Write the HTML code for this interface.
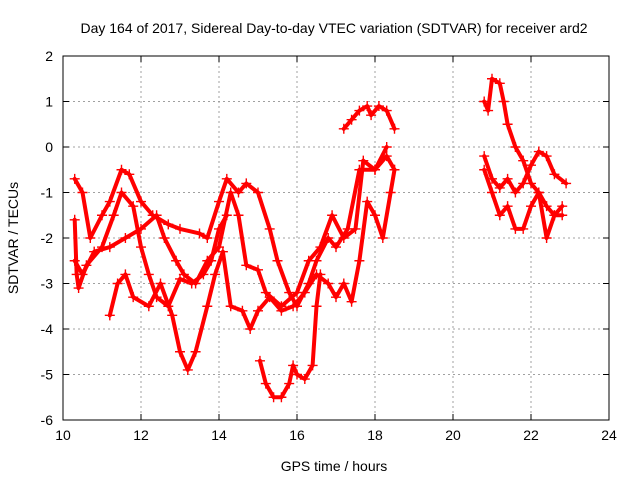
<!DOCTYPE html>
<html><head><meta charset="utf-8"><style>
body{margin:0;background:#fff}
svg{font-family:"Liberation Sans",sans-serif;font-size:14px}
</style></head><body>
<svg width="640" height="480">
<g id="grid"></g>
<g id="series"></g>
<rect x="63" y="56" width="546" height="364" fill="none" stroke="#000" stroke-width="1"/>
<g id="ticks"></g>
<text x="334" y="33" text-anchor="middle">Day 164 of 2017, Sidereal Day-to-day VTEC variation (SDTVAR) for receiver ard2</text>
<text x="334" y="471" text-anchor="middle">GPS time / hours</text>
<text x="18" y="238" text-anchor="middle" transform="rotate(-90 18 238)">SDTVAR / TECUs</text>
</svg>
<script>
const xTicks=[10,12,14,16,18,20,22,24];
const yTicks=[2,1,0,-1,-2,-3,-4,-5,-6];
const sA_t=[10.3,10.5,10.7,11,11.2,11.5,11.7,12,12.3,12.7,13,13.5,13.7,14,14.2,14.5,14.7,15,15.3,15.5,15.8,16,16.3,16.5,16.8,17,17.3,17.6,18,18.3,18.5];
const sA_v=[-0.7,-1,-2,-1.5,-1.2,-0.5,-0.6,-1.2,-1.5,-1.7,-1.8,-1.9,-2,-1.2,-0.7,-1,-0.8,-1,-1.8,-2.5,-3.2,-3.5,-3,-2.5,-2,-2.2,-1.8,-0.5,-0.5,-0.2,-0.5];
const sB_t=[11.2,11.4,11.6,11.8,12.2,12.5,12.8,13,13.2,13.4,13.7,13.9,14.1,14.3,14.6,14.8,15,15.3,15.6,15.9,16.2,16.5,16.8,17,17.2,17.4,17.6,17.8,18,18.2,18.4,18.5];
const sB_v=[-3.7,-3,-2.8,-3.3,-3.5,-3,-3.7,-4.5,-4.9,-4.5,-3.5,-2.8,-2.3,-3.5,-3.6,-4,-3.6,-3.3,-3.6,-3.5,-3.2,-2.8,-3,-3.3,-3,-3.4,-2.5,-1.2,-1.5,-2,-1,-0.5];
const sC_t=[10.3,10.5,10.8,11.2,11.6,12,12.4,12.6,12.9,13.1,13.4,13.7,14,14.3,14.5,14.7,15,15.2,15.6,16,16.3,16.6,16.9,17.2,17.5,17.7,18,18.3];
const sC_v=[-2.5,-2.8,-2.3,-2.2,-2,-1.8,-1.5,-2,-2.5,-2.8,-3,-2.5,-2.2,-1,-1.5,-2.6,-2.7,-3.2,-3.5,-3.2,-2.5,-2.2,-1.5,-2,-1.8,-0.3,-0.5,0];
const sD_t=[10.3,10.35,10.4,10.6,11,11.3,11.5,11.8,12,12.2,12.4,12.7,13,13.3,13.6,13.8,14,14.2];
const sD_v=[-1.6,-2.8,-3.1,-2.6,-2.2,-1.5,-1,-1.3,-2.2,-2.8,-3.3,-3.5,-2.9,-3,-2.8,-2.5,-1.8,-1.5];
const sE_t=[15.05,15.2,15.4,15.6,15.8,15.9,16,16.2,16.4,16.5,16.6];
const sE_v=[-4.7,-5.2,-5.5,-5.5,-5.2,-4.8,-5,-5.1,-4.8,-3.5,-2.8];
const sF_t=[17.2,17.4,17.6,17.8,17.9,18.1,18.3,18.5];
const sF_v=[0.4,0.6,0.8,0.9,0.7,0.9,0.8,0.4];
const sG_t=[20.8,20.9,21,21.2,21.3,21.4,21.6,21.8,22,22.2,22.4,22.6,22.8];
const sG_v=[1,0.8,1.5,1.4,1,0.5,0,-0.3,-0.8,-1,-1.3,-1.5,-1.5];
const sH_t=[20.8,21,21.2,21.4,21.6,21.8,22,22.2,22.4,22.6,22.9];
const sH_v=[-0.2,-0.7,-0.9,-0.7,-1,-0.8,-0.4,-0.1,-0.2,-0.6,-0.8];
const sI_t=[20.8,21,21.2,21.4,21.6,21.8,22,22.2,22.4,22.6,22.8];
const sI_v=[-0.5,-1,-1.5,-1.3,-1.8,-1.8,-1.3,-1,-2,-1.5,-1.3];
const allSeries=[[sA_t,sA_v],[sB_t,sB_v],[sC_t,sC_v],[sD_t,sD_v],[sE_t,sE_v],[sF_t,sF_v],[sG_t,sG_v],[sH_t,sH_v],[sI_t,sI_v]];
const X=t=>63+(t-10)*546/14, Y=v=>56+(2-v)*364/8;
const NS="http://www.w3.org/2000/svg";
function mk(tag,attrs,parent){const e=document.createElementNS(NS,tag);for(const k in attrs)e.setAttribute(k,attrs[k]);parent.appendChild(e);return e;}
const grid=document.getElementById('grid'),ticks=document.getElementById('ticks'),ser=document.getElementById('series');
xTicks.forEach(t=>{const x=X(t);
 if(t>10&&t<24){const g=mk('line',{x1:x,x2:x,y1:56,y2:420,stroke:'#a0a0a0','stroke-dasharray':'2,3'},grid);
 
 }
 const l=mk('text',{x:x,y:440,'text-anchor':'middle'},ticks);l.textContent=t;
 
 
 mk('line',{x1:x,x2:x,y1:420,y2:414,stroke:'#000'},ticks);mk('line',{x1:x,x2:x,y1:56,y2:62,stroke:'#000'},ticks);});
yTicks.forEach(v=>{const y=Y(v);
 if(v<2&&v>-6){const g=mk('line',{x1:63,x2:609,y1:y,y2:y,stroke:'#a0a0a0','stroke-dasharray':'2,3'},grid);
 
 }
 const l=mk('text',{x:53,y:y+5,'text-anchor':'end'},ticks);l.textContent=v;
 
 
 mk('line',{x1:63,x2:69,y1:y,y2:y,stroke:'#000'},ticks);mk('line',{x1:609,x2:603,y1:y,y2:y,stroke:'#000'},ticks);});
allSeries.forEach(([ts,vs])=>{
 const pts=ts.map((t,i)=>X(t)+','+Y(vs[i])).join(' ');
 const pl=mk('polyline',{points:pts,fill:'none',stroke:'#ff0000','stroke-width':4,'stroke-linejoin':'round','stroke-linecap':'round'},ser);
 
 
 ts.forEach((t,i)=>{const x=X(t),y=Y(vs[i]);
  const p=mk('path',{d:`M${x-5},${y}h10M${x},${y-5}v10`,stroke:'#ff0000','stroke-width':1.4},ser);
  
  });
});
</script>
</body></html>
